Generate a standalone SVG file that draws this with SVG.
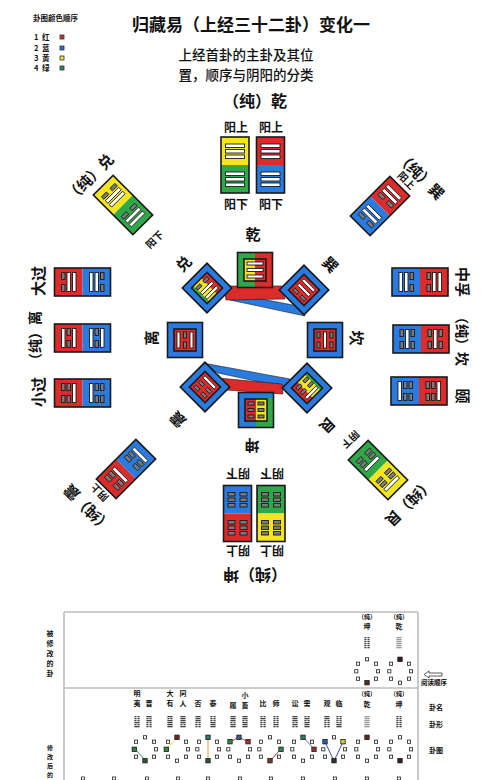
<svg xmlns="http://www.w3.org/2000/svg" width="500" height="780" viewBox="0 0 500 780">
<style>
text{font-family:"Noto Sans CJK SC","Noto Sans",sans-serif;fill:#111}
.b{font-weight:700}
.ttl{font-size:17px;font-weight:700}
.sub{font-size:13.5px;font-weight:500}
.lbl{font-size:15px;font-weight:700}
.sm{font-size:12px;font-weight:700}
.tiny{font-size:7px;font-weight:700}
.R{fill:#dc2b2b}.B{fill:#2a7be0}.Y{fill:#f5e51e}.G{fill:#2fa84a}
.fr{fill:none;stroke:#1a1a1a;stroke-width:1.6}
.bar{fill:#fff;stroke:#1a1a1a;stroke-width:0.9}
.gr{fill:#7a7a7a;stroke:#1a1a1a;stroke-width:0.9}
.sq{fill:#fff;stroke:#222;stroke-width:0.8}
.tl{stroke:#bdbdbd;stroke-width:1.6;fill:none}
.hx{fill:#444}
</style>
<defs>
<g id="y1"><rect class="bar" x="-9.5" y="0" width="19" height="3.5"/></g>
<g id="y0"><rect class="gr" x="-9.5" y="0" width="7" height="3.5"/><rect class="gr" x="2.5" y="0" width="7" height="3.5"/></g>
<g id="s1"><rect class="bar" x="-8" y="0" width="16" height="3"/></g>
<g id="s0"><rect class="gr" x="-8" y="0" width="6" height="3"/><rect class="gr" x="2" y="0" width="6" height="3"/></g>
<g id="h1"><rect x="-2.6" y="0" width="5.2" height="1.3"/></g>
<g id="h0"><rect x="-2.6" y="0" width="2.1" height="1.3"/><rect x="0.5" y="0" width="2.1" height="1.3"/></g>
<g id="oct">
<rect class="sq" x="-10.6" y="-8.9" width="3.2" height="3.2"/>
<rect class="sq" x="-1.6" y="-13.3" width="3.2" height="3.2"/>
<rect class="sq" x="7.4" y="-8.9" width="3.2" height="3.2"/>
<rect class="sq" x="-12.3" y="-1.3" width="3.2" height="3.2"/>
<rect class="sq" x="9.4" y="-1.3" width="3.2" height="3.2"/>
<rect class="sq" x="-10.6" y="6.1" width="3.2" height="3.2"/>
<rect class="sq" x="-1.6" y="10.1" width="3.2" height="3.2"/>
<rect class="sq" x="7.4" y="6.1" width="3.2" height="3.2"/>
</g>
</defs>
<rect width="500" height="780" fill="#fff"/>

<g id="legend">
<text class="b" x="33" y="21" font-size="7.5">卦图颜色顺序</text>
<g font-size="7.5" class="b">
<text x="34" y="40">1</text><text x="42" y="40">红</text>
<text x="34" y="51">2</text><text x="42" y="51">蓝</text>
<text x="34" y="61">3</text><text x="42" y="61">黄</text>
<text x="34" y="71">4</text><text x="42" y="71">绿</text>
</g>
<rect x="60" y="35" width="4" height="4" fill="#c0392b" stroke="#333" stroke-width="0.8"/>
<rect x="60" y="46" width="4" height="4" fill="#2a6fd0" stroke="#333" stroke-width="0.8"/>
<rect x="60" y="56" width="4" height="4" fill="#f0e040" stroke="#333" stroke-width="0.8"/>
<rect x="60" y="66" width="4" height="4" fill="#2e8b4a" stroke="#333" stroke-width="0.8"/>
</g>

<g id="title">
<text class="ttl" x="251" y="31" text-anchor="middle">归藏易（上经三十二卦）变化一</text>
<text class="sub" x="246" y="60" text-anchor="middle">上经首卦的主卦及其位</text>
<text class="sub" x="246" y="80" text-anchor="middle">置，顺序与阴阳的分类</text>
</g>

<g id="connectors">
<polygon points="220,291 298,306 305,316 230,300" fill="#2a7be0" stroke="#1a1a1a" stroke-width="0.6"/>
<polygon points="224,286 282,286 285,299 226,300" fill="#dc2b2b" stroke="#1a1a1a" stroke-width="0.6"/>
<polygon points="203,363 290,379 293,389 218,373" fill="#2a7be0" stroke="#1a1a1a" stroke-width="0.6"/>
<polygon points="218,378 282,384 283,394 226,390" fill="#dc2b2b" stroke="#1a1a1a" stroke-width="0.6"/>
</g>

<g id="qian">
<text class="b" x="255" y="107" font-size="16" text-anchor="middle">（纯）乾</text>
<text class="sm" x="236" y="132" text-anchor="middle">阳上</text>
<text class="sm" x="271" y="132" text-anchor="middle">阳上</text>
<text class="sm" x="236" y="209" text-anchor="middle">阳下</text>
<text class="sm" x="271" y="209" text-anchor="middle">阳下</text>
<g transform="translate(235,165)">
<rect class="Y" x="-14" y="-28" width="28" height="28"/><rect class="G" x="-14" y="0" width="28" height="28"/><rect class="fr" x="-14" y="-28" width="28" height="56"/>
<use href="#y1" y="-21"/><use href="#y1" y="-15.5"/><use href="#y1" y="-10"/><use href="#y1" y="7"/><use href="#y1" y="12.5"/><use href="#y1" y="18"/>
</g>
<g transform="translate(270.5,165)">
<rect class="R" x="-14" y="-28" width="28" height="28"/><rect class="B" x="-14" y="0" width="28" height="28"/><rect class="fr" x="-14" y="-28" width="28" height="56"/>
<use href="#y1" y="-21"/><use href="#y1" y="-15.5"/><use href="#y1" y="-10"/><use href="#y1" y="7"/><use href="#y1" y="12.5"/><use href="#y1" y="18"/>
</g>
</g>

<g id="kun">
<g transform="translate(255,576) rotate(180)"><text class="b" font-size="16" text-anchor="middle" dominant-baseline="central">（纯）坤</text></g>
<g transform="translate(238,474) rotate(180)"><text class="sm" text-anchor="middle" dominant-baseline="central">阴下</text></g>
<g transform="translate(272,474) rotate(180)"><text class="sm" text-anchor="middle" dominant-baseline="central">阴下</text></g>
<g transform="translate(238,551) rotate(180)"><text class="sm" text-anchor="middle" dominant-baseline="central">阴上</text></g>
<g transform="translate(272,551) rotate(180)"><text class="sm" text-anchor="middle" dominant-baseline="central">阴上</text></g>
<g transform="translate(237.5,513.5)">
<rect class="B" x="-14" y="-28" width="28" height="28"/><rect class="R" x="-14" y="0" width="28" height="28"/><rect class="fr" x="-14" y="-28" width="28" height="56"/>
<use href="#y0" y="-21"/><use href="#y0" y="-15.5"/><use href="#y0" y="-10"/><use href="#y0" y="7"/><use href="#y0" y="12.5"/><use href="#y0" y="18"/>
</g>
<g transform="translate(271,513.5)">
<rect class="G" x="-14" y="-28" width="28" height="28"/><rect class="Y" x="-14" y="0" width="28" height="28"/><rect class="fr" x="-14" y="-28" width="28" height="56"/>
<use href="#y0" y="-21"/><use href="#y0" y="-15.5"/><use href="#y0" y="-10"/><use href="#y0" y="7"/><use href="#y0" y="12.5"/><use href="#y0" y="18"/>
</g>
</g>

<g id="dui">
<g transform="translate(89,177) rotate(-45)"><text class="b" font-size="15" text-anchor="middle" dominant-baseline="central">（纯）兑</text></g>
<g transform="translate(154,239) rotate(-45)"><text class="b" font-size="10" text-anchor="middle" dominant-baseline="central">阳下</text></g>
<g transform="translate(123,205) rotate(-45)">
<rect class="Y" x="-14" y="-28" width="28" height="28"/><rect class="G" x="-14" y="0" width="28" height="28"/><rect class="fr" x="-14" y="-28" width="28" height="56"/>
<use href="#y0" y="-21"/><use href="#y1" y="-15.5"/><use href="#y1" y="-10"/><use href="#y0" y="7"/><use href="#y1" y="12.5"/><use href="#y1" y="18"/>
</g>
</g>

<g id="xun">
<g transform="translate(421,175) rotate(45)"><text class="b" font-size="15" text-anchor="middle" dominant-baseline="central">（纯）巽</text></g>
<g transform="translate(407,180) rotate(45)"><text class="b" font-size="10" text-anchor="middle" dominant-baseline="central">阳上</text></g>
<g transform="translate(380,206) rotate(45)">
<rect class="R" x="-14" y="-28" width="28" height="28"/><rect class="B" x="-14" y="0" width="28" height="28"/><rect class="fr" x="-14" y="-28" width="28" height="56"/>
<use href="#y1" y="-21"/><use href="#y1" y="-15.5"/><use href="#y0" y="-10"/><use href="#y1" y="7"/><use href="#y1" y="12.5"/><use href="#y0" y="18"/>
</g>
</g>

<g id="zhen">
<g transform="translate(87,509) rotate(-135)"><text class="b" font-size="15" text-anchor="middle" dominant-baseline="central">（纯）震</text></g>
<g transform="translate(99,493) rotate(-135)"><text class="b" font-size="10" text-anchor="middle" dominant-baseline="central">阴上</text></g>
<g transform="translate(126,469) rotate(-135)">
<rect class="R" x="-14" y="-28" width="28" height="28"/><rect class="B" x="-14" y="0" width="28" height="28"/><rect class="fr" x="-14" y="-28" width="28" height="56"/>
<use href="#y0" y="-21"/><use href="#y0" y="-15.5"/><use href="#y1" y="-10"/><use href="#y0" y="7"/><use href="#y0" y="12.5"/><use href="#y1" y="18"/>
</g>
</g>

<g id="gen">
<g transform="translate(410,503) rotate(135)"><text class="b" font-size="15" text-anchor="middle" dominant-baseline="central">（纯）艮</text></g>
<g transform="translate(351,440) rotate(135)"><text class="b" font-size="10" text-anchor="middle" dominant-baseline="central">阴下</text></g>
<g transform="translate(378,470) rotate(135)">
<rect class="Y" x="-14" y="-28" width="28" height="28"/><rect class="G" x="-14" y="0" width="28" height="28"/><rect class="fr" x="-14" y="-28" width="28" height="56"/>
<use href="#y1" y="-21"/><use href="#y0" y="-15.5"/><use href="#y0" y="-10"/><use href="#y1" y="7"/><use href="#y0" y="12.5"/><use href="#y0" y="18"/>
</g>
</g>

<g id="daguo">
<g transform="translate(37,281) rotate(-90)"><text class="lbl" text-anchor="middle" dominant-baseline="central">大过</text></g>
<g transform="translate(82.5,282) rotate(-90)">
<rect class="R" x="-14" y="-28" width="28" height="28"/><rect class="B" x="-14" y="0" width="28" height="28"/><rect class="fr" x="-14" y="-28" width="28" height="56"/>
<use href="#y0" y="-21"/><use href="#y1" y="-15.5"/><use href="#y1" y="-10"/><use href="#y1" y="7"/><use href="#y1" y="12.5"/><use href="#y0" y="18"/>
</g>
</g>
<g id="li">
<g transform="translate(34,339) rotate(-90)"><text class="b" font-size="14" text-anchor="middle" dominant-baseline="central">（纯）离</text></g>
<g transform="translate(82.5,338) rotate(-90)">
<rect class="R" x="-14" y="-28" width="28" height="28"/><rect class="B" x="-14" y="0" width="28" height="28"/><rect class="fr" x="-14" y="-28" width="28" height="56"/>
<use href="#y1" y="-21"/><use href="#y0" y="-15.5"/><use href="#y1" y="-10"/><use href="#y1" y="7"/><use href="#y0" y="12.5"/><use href="#y1" y="18"/>
</g>
</g>
<g id="xiaoguo">
<g transform="translate(37,392) rotate(-90)"><text class="lbl" text-anchor="middle" dominant-baseline="central">小过</text></g>
<g transform="translate(82.5,393) rotate(-90)">
<rect class="R" x="-14" y="-28" width="28" height="28"/><rect class="B" x="-14" y="0" width="28" height="28"/><rect class="fr" x="-14" y="-28" width="28" height="56"/>
<use href="#y0" y="-21"/><use href="#y0" y="-15.5"/><use href="#y1" y="-10"/><use href="#y1" y="7"/><use href="#y0" y="12.5"/><use href="#y0" y="18"/>
</g>
</g>
<g id="zhongfu">
<g transform="translate(463,282) rotate(90)"><text class="lbl" text-anchor="middle" dominant-baseline="central">中孚</text></g>
<g transform="translate(420,282) rotate(-90)">
<rect class="B" x="-14" y="-28" width="28" height="28"/><rect class="R" x="-14" y="0" width="28" height="28"/><rect class="fr" x="-14" y="-28" width="28" height="56"/>
<use href="#y1" y="-21"/><use href="#y1" y="-15.5"/><use href="#y0" y="-10"/><use href="#y0" y="7"/><use href="#y1" y="12.5"/><use href="#y1" y="18"/>
</g>
</g>
<g id="kan">
<g transform="translate(463,338) rotate(90)"><text class="b" font-size="14" text-anchor="middle" dominant-baseline="central">（纯）坎</text></g>
<g transform="translate(421,339) rotate(-90)">
<rect class="B" x="-14" y="-28" width="28" height="28"/><rect class="R" x="-14" y="0" width="28" height="28"/><rect class="fr" x="-14" y="-28" width="28" height="56"/>
<use href="#y0" y="-21"/><use href="#y1" y="-15.5"/><use href="#y0" y="-10"/><use href="#y0" y="7"/><use href="#y1" y="12.5"/><use href="#y0" y="18"/>
</g>
</g>
<g id="yi">
<g transform="translate(463,396) rotate(90)"><text class="lbl" text-anchor="middle" dominant-baseline="central">颐</text></g>
<g transform="translate(419,391) rotate(-90)">
<rect class="B" x="-14" y="-28" width="28" height="28"/><rect class="R" x="-14" y="0" width="28" height="28"/><rect class="fr" x="-14" y="-28" width="28" height="56"/>
<use href="#y1" y="-21"/><use href="#y0" y="-15.5"/><use href="#y0" y="-10"/><use href="#y0" y="7"/><use href="#y0" y="12.5"/><use href="#y1" y="18"/>
</g>
</g>

<g id="in-qian">
<text class="lbl" x="253" y="240" text-anchor="middle">乾</text>
<g transform="translate(255,270)">
<rect class="G" x="-17.5" y="-17.5" width="17.5" height="35"/><rect class="R" x="0" y="-17.5" width="17.5" height="35"/><rect class="fr" x="-17.5" y="-17.5" width="35" height="35"/>
<rect class="Y" x="-11" y="-11" width="11" height="22"/><rect class="R" x="0" y="-11" width="11" height="22"/><rect class="fr" x="-11" y="-11" width="22" height="22"/>
<use href="#s1" y="-8"/><use href="#s1" y="-1.5"/><use href="#s1" y="5"/>
</g>
</g>
<g id="in-kun">
<g transform="translate(252,446) rotate(180)"><text class="lbl" text-anchor="middle" dominant-baseline="central">坤</text></g>
<g transform="translate(256,410)">
<rect class="B" x="-17.5" y="-17.5" width="17.5" height="35"/><rect class="G" x="0" y="-17.5" width="17.5" height="35"/><rect class="B" x="-17.5" y="-17.5" width="35" height="5"/><rect class="fr" x="-17.5" y="-17.5" width="35" height="35"/>
<rect class="R" x="-11" y="-11" width="11" height="22"/><rect class="Y" x="0" y="-11" width="11" height="22"/><rect class="fr" x="-11" y="-11" width="22" height="22"/>
<use href="#s0" y="-8"/><use href="#s0" y="-1.5"/><use href="#s0" y="5"/>
</g>
</g>
<g id="in-li">
<g transform="translate(150,338) rotate(-90)"><text class="lbl" text-anchor="middle" dominant-baseline="central">离</text></g>
<g transform="translate(185,340) rotate(-90)">
<rect class="B" x="-17.5" y="-17.5" width="35" height="35"/><rect class="fr" x="-17.5" y="-17.5" width="35" height="35"/>
<rect class="R" x="-11" y="-11" width="22" height="22"/><rect class="fr" x="-11" y="-11" width="22" height="22"/>
<use href="#s1" y="-8"/><use href="#s0" y="-1.5"/><use href="#s1" y="5"/>
</g>
</g>
<g id="in-kan">
<g transform="translate(357,338) rotate(90)"><text class="lbl" text-anchor="middle" dominant-baseline="central">坎</text></g>
<g transform="translate(325,340) rotate(-90)">
<rect class="B" x="-17.5" y="-17.5" width="35" height="35"/><rect class="fr" x="-17.5" y="-17.5" width="35" height="35"/>
<rect class="R" x="-11" y="-11" width="22" height="22"/><rect class="fr" x="-11" y="-11" width="22" height="22"/>
<use href="#s0" y="-8"/><use href="#s1" y="-1.5"/><use href="#s0" y="5"/>
</g>
</g>
<g id="in-dui">
<g transform="translate(183,263) rotate(-45)"><text class="lbl" text-anchor="middle" dominant-baseline="central">兑</text></g>
<g transform="translate(207,288) rotate(-45)">
<rect class="B" x="-17.5" y="-17.5" width="35" height="35"/><rect class="fr" x="-17.5" y="-17.5" width="35" height="35"/>
<rect class="G" x="-11" y="-11" width="22" height="22"/><rect class="Y" x="-8" y="-11" width="11" height="22"/><rect class="R" x="3" y="-11" width="8" height="22"/><rect class="fr" x="-11" y="-11" width="22" height="22"/>
<use href="#s0" y="-8"/><use href="#s1" y="-1.5"/><use href="#s1" y="5"/>
</g>
</g>
<g id="in-xun">
<g transform="translate(331,264) rotate(45)"><text class="lbl" text-anchor="middle" dominant-baseline="central">巽</text></g>
<g transform="translate(304,290) rotate(45)">
<rect class="B" x="-17.5" y="-17.5" width="35" height="35"/><rect class="fr" x="-17.5" y="-17.5" width="35" height="35"/>
<rect class="R" x="-11" y="-11" width="22" height="22"/><rect class="fr" x="-11" y="-11" width="22" height="22"/>
<use href="#s1" y="-8"/><use href="#s1" y="-1.5"/><use href="#s0" y="5"/>
</g>
</g>
<g id="in-zhen">
<g transform="translate(177,420) rotate(-135)"><text class="lbl" text-anchor="middle" dominant-baseline="central">震</text></g>
<g transform="translate(205,387) rotate(-135)">
<rect class="B" x="-17.5" y="-17.5" width="35" height="35"/><rect class="fr" x="-17.5" y="-17.5" width="35" height="35"/>
<rect class="R" x="-11" y="-11" width="22" height="22"/><rect class="fr" x="-11" y="-11" width="22" height="22"/>
<use href="#s0" y="-8"/><use href="#s0" y="-1.5"/><use href="#s1" y="5"/>
</g>
</g>
<g id="in-gen">
<g transform="translate(328,426) rotate(135)"><text class="lbl" text-anchor="middle" dominant-baseline="central">艮</text></g>
<g transform="translate(307,388) rotate(135)">
<rect class="B" x="-17.5" y="-17.5" width="35" height="35"/><rect class="fr" x="-17.5" y="-17.5" width="35" height="35"/>
<rect class="G" x="-11" y="-11" width="22" height="22"/><rect class="Y" x="-8" y="-11" width="11" height="22"/><rect class="R" x="3" y="-11" width="8" height="22"/><rect class="fr" x="-11" y="-11" width="22" height="22"/>
<use href="#s1" y="-8"/><use href="#s0" y="-1.5"/><use href="#s0" y="5"/>
</g>
</g>

<g id="table">
<path class="tl" d="M64,612 H418 M64,612 V780 M418,612 V780 M64,688 H418"/>
<g class="tiny" text-anchor="middle">
<text x="50" y="636">被</text><text x="50" y="646">修</text><text x="50" y="656">改</text><text x="50" y="666">的</text><text x="50" y="676">卦</text>
<g font-size="6"><text x="50" y="750">修</text><text x="50" y="759">改</text><text x="50" y="768">后</text><text x="50" y="777">的</text></g>
<text x="367" y="619" font-size="6">（纯）</text><text x="367" y="629">坤</text>
<text x="399" y="619" font-size="6">（纯）</text><text x="399" y="629">乾</text>
<text x="137" y="696">明</text><text x="137" y="706">夷</text><text x="149" y="706">晋</text>
<text x="170" y="696">大</text><text x="170" y="706">有</text><text x="183" y="696">同</text><text x="183" y="706">人</text>
<text x="198" y="706">否</text><text x="213" y="706">泰</text>
<text x="233" y="708">履</text><text x="245" y="698">小</text><text x="245" y="708">畜</text>
<text x="263" y="706">比</text><text x="276" y="706">师</text>
<text x="295" y="706">讼</text><text x="307" y="706">需</text>
<text x="327" y="706">观</text><text x="339" y="706">临</text>
<text x="367" y="696" font-size="6">（纯）</text><text x="367" y="707">乾</text>
<text x="399" y="696" font-size="6">（纯）</text><text x="399" y="707">坤</text>
<text x="436" y="710">卦名</text><text x="436" y="727">卦形</text><text x="436" y="753">卦图</text>
<text x="434" y="685" font-size="6.5">阅读顺序</text>
</g>
<path d="M424,674.5 L429,671 V673 H442 V676 H429 V678 Z" fill="#fff" stroke="#333" stroke-width="0.8"/>

<g class="hx">
<g transform="translate(367,637)"><use href="#h0"/><use href="#h0" y="2"/><use href="#h0" y="4"/><use href="#h0" y="6"/><use href="#h0" y="8"/><use href="#h0" y="10"/></g>
<g transform="translate(399,637)" fill="#999"><use href="#h1"/><use href="#h1" y="2"/><use href="#h1" y="4"/><use href="#h1" y="6"/><use href="#h1" y="8"/><use href="#h1" y="10"/></g>
<g transform="translate(137,716)"><use href="#h0"/><use href="#h0" y="2"/><use href="#h0" y="4"/><use href="#h1" y="6"/><use href="#h0" y="8"/><use href="#h1" y="10"/></g>
<g transform="translate(149,716)"><use href="#h1"/><use href="#h0" y="2"/><use href="#h1" y="4"/><use href="#h0" y="6"/><use href="#h0" y="8"/><use href="#h0" y="10"/></g>
<g transform="translate(170,716)"><use href="#h1"/><use href="#h0" y="2"/><use href="#h1" y="4"/><use href="#h1" y="6"/><use href="#h1" y="8"/><use href="#h1" y="10"/></g>
<g transform="translate(183,716)"><use href="#h1"/><use href="#h1" y="2"/><use href="#h1" y="4"/><use href="#h1" y="6"/><use href="#h0" y="8"/><use href="#h1" y="10"/></g>
<g transform="translate(198,716)"><use href="#h1"/><use href="#h1" y="2"/><use href="#h1" y="4"/><use href="#h0" y="6"/><use href="#h0" y="8"/><use href="#h0" y="10"/></g>
<g transform="translate(213,716)"><use href="#h0"/><use href="#h0" y="2"/><use href="#h0" y="4"/><use href="#h1" y="6"/><use href="#h1" y="8"/><use href="#h1" y="10"/></g>
<g transform="translate(233,716)"><use href="#h1"/><use href="#h1" y="2"/><use href="#h1" y="4"/><use href="#h0" y="6"/><use href="#h1" y="8"/><use href="#h1" y="10"/></g>
<g transform="translate(245,716)"><use href="#h1"/><use href="#h1" y="2"/><use href="#h0" y="4"/><use href="#h1" y="6"/><use href="#h1" y="8"/><use href="#h1" y="10"/></g>
<g transform="translate(263,716)"><use href="#h0"/><use href="#h1" y="2"/><use href="#h0" y="4"/><use href="#h0" y="6"/><use href="#h0" y="8"/><use href="#h0" y="10"/></g>
<g transform="translate(276,716)"><use href="#h0"/><use href="#h0" y="2"/><use href="#h0" y="4"/><use href="#h0" y="6"/><use href="#h1" y="8"/><use href="#h0" y="10"/></g>
<g transform="translate(295,716)"><use href="#h1"/><use href="#h1" y="2"/><use href="#h1" y="4"/><use href="#h0" y="6"/><use href="#h1" y="8"/><use href="#h0" y="10"/></g>
<g transform="translate(307,716)"><use href="#h0"/><use href="#h1" y="2"/><use href="#h0" y="4"/><use href="#h1" y="6"/><use href="#h1" y="8"/><use href="#h1" y="10"/></g>
<g transform="translate(327,716)"><use href="#h1"/><use href="#h1" y="2"/><use href="#h0" y="4"/><use href="#h0" y="6"/><use href="#h0" y="8"/><use href="#h0" y="10"/></g>
<g transform="translate(339,716)"><use href="#h0"/><use href="#h0" y="2"/><use href="#h0" y="4"/><use href="#h0" y="6"/><use href="#h1" y="8"/><use href="#h1" y="10"/></g>
<g transform="translate(367,716)" fill="#999"><use href="#h1"/><use href="#h1" y="2"/><use href="#h1" y="4"/><use href="#h1" y="6"/><use href="#h1" y="8"/><use href="#h1" y="10"/></g>
<g transform="translate(399,716)"><use href="#h0"/><use href="#h0" y="2"/><use href="#h0" y="4"/><use href="#h0" y="6"/><use href="#h0" y="8"/><use href="#h0" y="10"/></g>
</g>

<g stroke-width="1" fill="none">
<line x1="135" y1="749" x2="145" y2="760" stroke="#3a9a4a"/>
<line x1="167" y1="749" x2="177" y2="737" stroke="#e6d84a"/>
<line x1="208" y1="737" x2="208" y2="761" stroke="#e0a030"/>
<line x1="230" y1="742" x2="239" y2="737" stroke="#d04040"/><line x1="239" y1="737" x2="248" y2="742" stroke="#d04040"/>
<line x1="281" y1="749" x2="270" y2="761" stroke="#a03030"/>
<line x1="303" y1="737" x2="314" y2="749" stroke="#6a6ab0"/>
<line x1="325" y1="742" x2="334" y2="761" stroke="#4050b0"/><line x1="334" y1="761" x2="343" y2="742" stroke="#4050b0"/>
</g>
<use href="#oct" x="145" y="749"/><use href="#oct" x="177" y="749"/><use href="#oct" x="208" y="749"/>
<use href="#oct" x="239" y="749"/><use href="#oct" x="270" y="749"/><use href="#oct" x="303" y="749"/>
<use href="#oct" x="334" y="749"/><use href="#oct" x="367" y="749"/><use href="#oct" x="400" y="749"/>
<use href="#oct" x="367" y="671"/><use href="#oct" x="400" y="671"/>
<g stroke="#222" stroke-width="0.8">
<rect x="132.1" y="747.1" width="4.4" height="4.4" fill="#2e7d3c"/><rect x="142.8" y="758.5" width="4.4" height="4.4" fill="#2c5a38"/>
<rect x="164.1" y="747.1" width="4.4" height="4.4" fill="#3b8a3b"/><rect x="174.8" y="735.1" width="4.4" height="4.4" fill="#6b2a1e"/>
<rect x="205.8" y="735.1" width="4.4" height="4.4" fill="#2a7a6a"/><rect x="205.8" y="758.5" width="4.4" height="4.4" fill="#2a5a3a"/>
<rect x="227.8" y="739.5" width="4.4" height="4.4" fill="#2e8a4a"/><rect x="236.8" y="735.1" width="4.4" height="4.4" fill="#3a5a8a"/><rect x="245.8" y="739.5" width="4.4" height="4.4" fill="#a83030"/>
<rect x="278.8" y="747.1" width="4.4" height="4.4" fill="#2e8a4a"/><rect x="267.8" y="758.5" width="4.4" height="4.4" fill="#7a3a2a"/>
<rect x="300.8" y="735.1" width="4.4" height="4.4" fill="#2e7a6a"/><rect x="311.8" y="747.1" width="4.4" height="4.4" fill="#a03030"/>
<rect x="322.8" y="739.5" width="4.4" height="4.4" fill="#2a5ab0"/><rect x="340.8" y="739.5" width="4.4" height="4.4" fill="#d8c830"/><rect x="331.8" y="758.5" width="4.4" height="4.4" fill="#3a3030"/>
<rect x="364.8" y="735.1" width="4.4" height="4.4" fill="#5a2a1a"/>
<rect x="397.8" y="758.5" width="4.4" height="4.4" fill="#3a1a1a"/>
<rect x="364.8" y="680.5" width="4.4" height="4.4" fill="#5a2a1a"/>
<rect x="397.8" y="657.1" width="4.4" height="4.4" fill="#3a1a1a"/>
</g>
<g class="sq">
<rect x="81.5" y="777" width="3" height="3"/><rect x="112.5" y="777" width="3" height="3"/><rect x="145.5" y="777" width="3" height="3"/>
<rect x="176.5" y="777" width="3" height="3"/><rect x="206.5" y="777" width="3" height="3"/><rect x="238.5" y="777" width="3" height="3"/>
<rect x="269.5" y="777" width="3" height="3"/><rect x="301.5" y="777" width="3" height="3"/><rect x="333.5" y="777" width="3" height="3"/>
<rect x="365.5" y="777" width="3" height="3"/><rect x="397.5" y="777" width="3" height="3"/>
</g>
</g>
</svg>
